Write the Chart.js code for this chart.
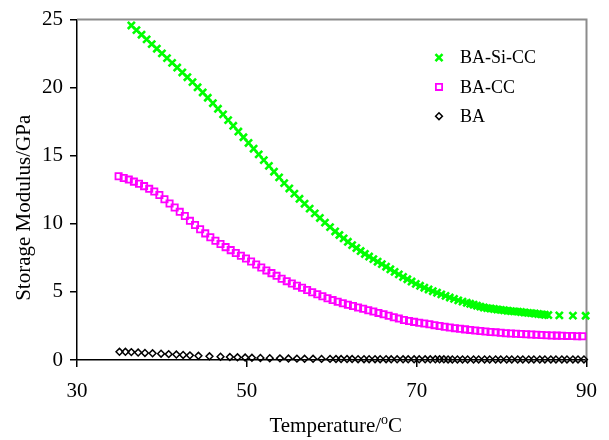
<!DOCTYPE html>
<html><head><meta charset="utf-8">
<script src="https://cdn.jsdelivr.net/npm/chart.js@4.4.0/dist/chart.umd.min.js"></script>
<style>html,body{margin:0;padding:0;background:#fff;overflow:hidden}#wrap{width:609px;height:440px}</style>
</head><body><div id="wrap"><canvas id="c" width="609" height="440"></canvas></div>
<script>
const xTicks = [30, 50, 70, 90];
const yTicks = [0, 5, 10, 15, 20, 25];
const seriesNames = ['BA-Si-CC', 'BA-CC', 'BA'];
const xTitle = ['Temperature/', 'o', 'C'];
const yTitle = 'Storage Modulus/GPa';

const tempBASiCC = [36.4,37.0,37.6,38.2,38.8,39.4,40.0,40.6,41.2,41.8,42.4,43.0,43.6,44.2,44.8,45.4,46.0,46.6,47.2,47.8,48.4,49.0,49.6,50.2,50.8,51.4,52.0,52.6,53.2,53.8,54.4,55.0,55.6,56.2,56.8,57.4,58.0,58.6,59.2,59.8,60.4,
60.9,61.4,61.9,62.4,62.9,63.4,63.9,64.4,64.9,65.4,65.9,66.4,66.9,67.4,67.9,68.4,68.9,69.4,69.9,70.4,70.9,71.4,71.9,72.4,72.9,73.4,73.9,74.4,74.9,75.4,75.9,
76.3,76.7,77.1,77.5,77.9,78.3,78.7,79.1,79.5,79.9,80.3,80.7,81.1,81.5,81.9,82.3,82.7,83.1,83.5,83.9,84.3,84.7,85.1,85.5,86.8,88.4,89.9];
const modBASiCC = [24.57,24.23,23.89,23.55,23.2,22.86,22.52,22.17,21.82,21.48,21.12,20.77,20.41,20.03,19.65,19.26,18.86,18.45,18.04,17.62,17.2,16.78,16.36,15.94,15.52,15.1,14.68,14.26,13.83,13.41,12.99,12.6,12.22,11.84,11.48,11.12,10.77,10.43,10.09,9.76,9.44,
9.18,8.93,8.68,8.44,8.22,8.0,7.79,7.6,7.41,7.22,7.04,6.85,6.66,6.47,6.29,6.1,5.93,5.76,5.59,5.45,5.31,5.18,5.05,4.94,4.82,4.71,4.59,4.49,4.38,4.29,4.2,
4.13,4.06,3.99,3.92,3.86,3.81,3.78,3.75,3.71,3.68,3.65,3.62,3.59,3.57,3.55,3.52,3.49,3.46,3.44,3.41,3.38,3.35,3.32,3.3,3.28,3.26,3.25];

const tempBACC = [34.9,35.5,36.1,36.7,37.3,37.9,38.5,39.1,39.7,40.3,40.9,41.5,42.1,42.7,43.3,43.9,44.5,45.1,45.7,46.3,46.9,47.5,48.1,48.7,49.3,49.9,50.5,51.1,51.7,52.3,52.9,53.5,54.1,54.7,55.3,55.9,56.5,57.1,57.7,58.3,58.9,59.5,60.1,60.7,61.3,61.9,62.5,63.1,63.7,64.3,64.9,65.5,66.1,66.7,67.3,67.9,68.5,69.1,69.7,70.3,70.9,71.5,72.1,72.7,73.3,73.9,74.5,75.1,75.7,76.3,76.9,77.5,78.1,78.7,79.3,79.9,80.5,81.1,81.7,82.3,82.9,83.5,84.1,84.7,85.3,85.9,86.5,87.1,87.7,88.3,88.9,89.5];
const modBACC = [13.5,13.37,13.25,13.1,12.94,12.77,12.57,12.37,12.12,11.8,11.5,11.2,10.88,10.57,10.22,9.92,9.6,9.3,9.02,8.76,8.52,8.29,8.07,7.86,7.66,7.46,7.24,7.01,6.79,6.58,6.38,6.18,5.97,5.79,5.62,5.46,5.3,5.14,4.98,4.83,4.68,4.54,4.4,4.28,4.17,4.06,3.96,3.86,3.76,3.66,3.56,3.46,3.36,3.25,3.14,3.04,2.94,2.86,2.8,2.74,2.68,2.62,2.56,2.5,2.44,2.39,2.34,2.29,2.25,2.21,2.17,2.13,2.09,2.06,2.03,2.0,1.97,1.95,1.93,1.91,1.89,1.87,1.85,1.83,1.82,1.8,1.79,1.78,1.77,1.76,1.75,1.74];

const tempBA = [35.0,35.7,36.4,37.2,38.0,38.9,39.9,40.8,41.7,42.5,43.3,44.3,45.6,46.9,48.0,48.9,49.8,50.6,51.6,52.7,53.9,54.9,55.9,56.8,57.8,58.8,59.8,60.5,61.1,61.8,62.4,63.1,63.8,64.4,65.1,65.7,66.4,67.0,67.7,68.4,69.0,69.7,70.3,71.0,71.6,72.2,72.7,73.2,73.7,74.2,74.8,75.4,76.0,76.7,77.3,78.0,78.6,79.3,79.9,80.6,81.2,81.9,82.5,83.2,83.8,84.5,85.1,85.8,86.4,87.1,87.7,88.4,89.0,89.7];
const modBA = [0.6,0.6,0.58,0.55,0.52,0.49,0.46,0.43,0.4,0.37,0.34,0.31,0.27,0.24,0.22,0.2,0.18,0.16,0.15,0.13,0.12,0.11,0.1,0.09,0.09,0.08,0.08,0.07,0.07,0.07,0.07,0.06,0.06,0.06,0.06,0.06,0.06,0.05,0.05,0.05,0.05,0.05,0.05,0.05,0.05,0.05,0.05,0.05,0.04,0.04,0.04,0.04,0.04,0.04,0.04,0.04,0.04,0.04,0.04,0.04,0.04,0.04,0.04,0.04,0.04,0.04,0.04,0.04,0.04,0.04,0.04,0.04,0.04,0.04];

const FONT = '"Liberation Serif", "Times New Roman", serif';
const styles = [
  {pointStyle:'crossRot', radius:5, color:'#00ff00', fill:'#00ff00', bw:2.6},
  {pointStyle:'rect', radius:4.4, color:'#ff00ff', fill:'rgba(0,0,0,0)', bw:1.8},
  {pointStyle:'rectRot', radius:3.4, color:'#000000', fill:'rgba(0,0,0,0)', bw:1.5}
];
const xs = [tempBASiCC, tempBACC, tempBA];
const ys = [modBASiCC, modBACC, modBA];

function mkData(t, v){ return t.map((x,i)=>({x:x, y:v[i]})); }

function drawMarker(ctx, st, x, y){
  ctx.save();
  ctx.strokeStyle = st.color; ctx.fillStyle = st.fill; ctx.lineWidth = st.bw;
  const r = st.radius;
  ctx.beginPath();
  if (st.pointStyle === 'crossRot'){
    const d = r*Math.SQRT1_2;
    ctx.moveTo(x-d,y-d); ctx.lineTo(x+d,y+d); ctx.moveTo(x+d,y-d); ctx.lineTo(x-d,y+d);
    ctx.stroke();
  } else if (st.pointStyle === 'rect'){
    const s = r*Math.SQRT1_2;
    ctx.rect(x-s,y-s,2*s,2*s); ctx.fill(); ctx.stroke();
  } else {
    ctx.moveTo(x-r,y); ctx.lineTo(x,y-r); ctx.lineTo(x+r,y); ctx.lineTo(x,y+r); ctx.closePath(); ctx.fill(); ctx.stroke();
  }
  ctx.restore();
}

const deco = {
  id:'deco',
  beforeDatasetsDraw(chart){
    const ctx = chart.ctx, a = chart.chartArea;
    ctx.save();
    ctx.strokeStyle = '#8c8c8c'; ctx.lineWidth = 2;
    ctx.beginPath(); ctx.moveTo(a.left, a.top); ctx.lineTo(a.right, a.top); ctx.lineTo(a.right, a.bottom); ctx.stroke();
    ctx.restore();
  },
  afterDraw(chart){
    const ctx = chart.ctx, a = chart.chartArea;
    ctx.save();
    ctx.fillStyle = '#000';
    const lx = a.left + 362, ly = a.top + 38, row = 29.3;
    ctx.font = '18px ' + FONT; ctx.textAlign = 'left'; ctx.textBaseline = 'middle';
    seriesNames.forEach((n,i)=>{
      drawMarker(ctx, styles[i], lx, ly + i*row);
      ctx.fillStyle = '#000';
      ctx.fillText(n, lx + 21, ly + i*row + 1);
    });
    const big = '21px ' + FONT, small = '14px ' + FONT;
    ctx.font = big; const w1 = ctx.measureText(xTitle[0]).width, w3 = ctx.measureText(xTitle[2]).width;
    ctx.font = small; const w2 = ctx.measureText(xTitle[1]).width;
    let x0 = (a.left + a.right)/2 + 4 - (w1+w2+w3)/2;
    const base = 432;
    ctx.textBaseline = 'alphabetic';
    ctx.font = big; ctx.fillText(xTitle[0], x0, base); x0 += w1;
    ctx.font = small; ctx.fillText(xTitle[1], x0, base - 8); x0 += w2;
    ctx.font = big; ctx.fillText(xTitle[2], x0, base);
    ctx.translate(24, (a.top + a.bottom)/2 + 18);
    ctx.rotate(-Math.PI/2);
    ctx.font = big; ctx.textAlign = 'center'; ctx.textBaseline = 'middle';
    ctx.fillText(yTitle, 0, 0);
    ctx.restore();
  }
};

const tickFont = {family: FONT, size: 21};
new Chart(document.getElementById('c'), {
  type: 'scatter',
  data: {
    datasets: seriesNames.map((n,i)=>({
      label: n,
      data: mkData(xs[i], ys[i]),
      pointStyle: styles[i].pointStyle,
      radius: styles[i].radius,
      pointRadius: styles[i].radius,
      borderColor: styles[i].color,
      backgroundColor: styles[i].fill,
      borderWidth: styles[i].bw,
      showLine: false,
      clip: false
    }))
  },
  options: {
    responsive: false,
    animation: false,
    devicePixelRatio: 1,
    events: [],
    layout: {padding: {left: 0, top: 14, right: 19, bottom: 0}},
    plugins: {legend: {display: false}, tooltip: {enabled: false}, title: {display: false}},
    scales: {
      x: {
        type: 'linear', min: 30, max: 90,
        afterBuildTicks: s => { s.ticks = xTicks.map(v => ({value: v})); },
        ticks: {font: tickFont, color: '#000', padding: 12, maxRotation: 0, autoSkip: false},
        grid: {display: true, drawOnChartArea: false, drawTicks: true, tickLength: 7, color: '#000', lineWidth: 1.5},
        border: {display: true, color: '#000', width: 1.5},
        afterFit: s => { s.height = 80; }
      },
      y: {
        type: 'linear', min: 0, max: 25,
        afterBuildTicks: s => { s.ticks = yTicks.map(v => ({value: v})); },
        ticks: {font: tickFont, color: '#000', padding: 7, autoSkip: false},
        grid: {display: true, drawOnChartArea: false, drawTicks: true, tickLength: 7, color: '#000', lineWidth: 1.5},
        border: {display: true, color: '#000', width: 1.5},
        afterFit: s => { s.width = 77; }
      }
    }
  },
  plugins: [deco]
});
</script>
</body></html>
